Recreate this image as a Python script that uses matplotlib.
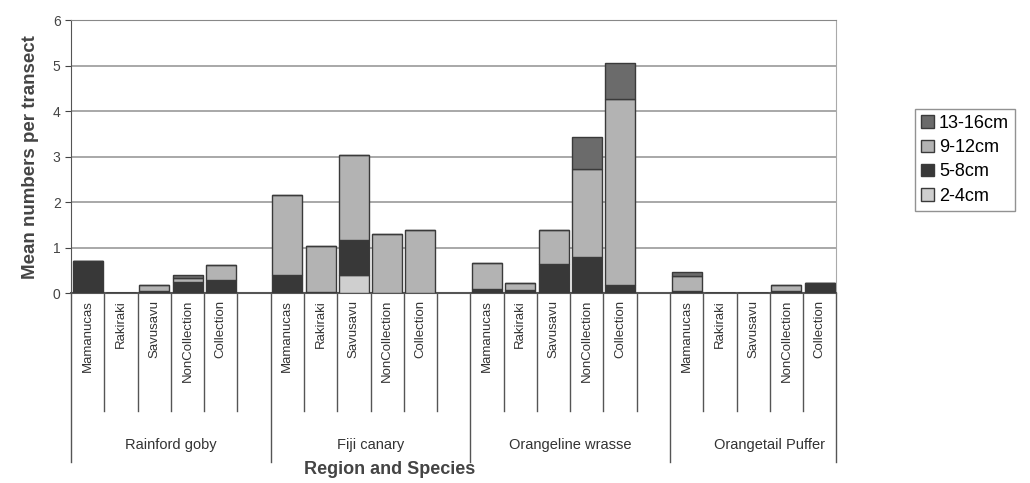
import numpy as np
import matplotlib.pyplot as plt
import matplotlib.transforms as mtransforms

plt.rcParams['font.family'] = ['Liberation Sans', 'DejaVu Sans']

species = ["Rainford goby", "Fiji canary", "Orangeline wrasse", "Orangetail Puffer"]
regions = ["Mamanucas", "Rakiraki", "Savusavu", "NonCollection", "Collection"]
size_classes = ["2-4cm", "5-8cm", "9-12cm", "13-16cm"]

# values per species, in region order
cm_2_4 = [0, 0, 0, 0, 0,
          0, 0, 0.40, 0, 0,
          0, 0, 0, 0, 0,
          0, 0, 0, 0, 0]
cm_5_8 = [0.70, 0, 0.04, 0.25, 0.28,
          0.40, 0.03, 0.77, 0, 0,
          0.10, 0.08, 0.65, 0.80, 0.18,
          0.05, 0, 0, 0.05, 0.22]
cm_9_12 = [0, 0, 0.14, 0.08, 0.34,
           1.75, 1.00, 1.86, 1.30, 1.38,
           0.56, 0.14, 0.73, 1.94, 4.10,
           0.32, 0, 0, 0.12, 0]
cm_13_16 = [0, 0, 0, 0.07, 0,
            0, 0, 0, 0, 0,
            0, 0, 0, 0.69, 0.79,
            0.10, 0, 0, 0, 0]

colors = ['#cfcfcf', '#383838', '#b3b3b3', '#6b6b6b']

n_reg = len(regions)
slot = n_reg + 1
x = np.array([g * slot + r for g in range(len(species)) for r in range(n_reg)])

fig = plt.figure(figsize=(10.3, 4.83), dpi=100)
ax = fig.add_axes([0.069, 0.393, 0.743, 0.565])

bottom = np.zeros(len(x))
handles = []
for vals, col, lab in zip([cm_2_4, cm_5_8, cm_9_12, cm_13_16], colors, size_classes):
    vals = np.array(vals)
    h = ax.bar(x, vals, width=0.9, bottom=bottom, color=col, edgecolor='#3a3a3a',
               linewidth=1.0, label=lab, zorder=3)
    handles.append(h)
    bottom += vals

n_slots = len(species) * slot - 1
ax.set_xlim(-0.5, n_slots - 0.5)
ax.set_ylim(0, 6)
ax.set_yticks(range(7))
ax.tick_params(axis='y', labelsize=10, length=4, colors='#444444')
ax.set_xticks([])
ax.grid(axis='y', color='#9a9a9a', linewidth=1.2, zorder=0)
ax.spines['right'].set_color('#aaaaaa')
ax.spines['top'].set_color('#888888')
ax.spines['left'].set_color('#555555')
ax.spines['bottom'].set_color('#555555')
ax.spines['bottom'].set_linewidth(1.5)

# category axis: tick lines, region labels and species labels
trans = mtransforms.blended_transform_factory(ax.transData, ax.transAxes)
for edge in np.arange(-0.5, n_slots, 1.0):
    is_group = (edge + 0.5) % slot == 0 or edge == n_slots - 0.5
    ax.plot([edge, edge], [0, -0.62 if is_group else -0.43], transform=trans,
            color='#555555', linewidth=1.0, clip_on=False)
for xi, name in zip(x, regions * len(species)):
    ax.text(xi, -0.025, name, transform=trans, rotation=90, ha='center', va='top',
            fontsize=9.5, color='#333333')
for g, name in enumerate(species):
    ax.text(g * slot + (n_reg - 1) / 2 + 0.5, -0.555, name, transform=trans,
            ha='center', va='center', fontsize=10.5, color='#333333')

ax.set_ylabel("Mean numbers per transect", fontsize=13.5, fontweight='bold', color='#444444', labelpad=10)
fig.text(0.378, 0.027, "Region and Species", ha='center', va='center', fontsize=13,
         fontweight='bold', color='#444444')

leg = fig.legend(handles[::-1], size_classes[::-1], loc='upper left', bbox_to_anchor=(0.888, 0.775),
                 fontsize=13, frameon=True, fancybox=False, edgecolor='#777777',
                 handlelength=0.7, handleheight=0.7, handletextpad=0.3, borderpad=0.35,
                 labelspacing=0.4, borderaxespad=0)

fig.savefig("out.png", dpi=100)
